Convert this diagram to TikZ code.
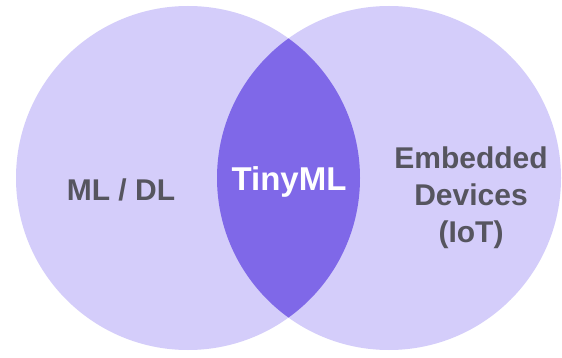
\documentclass[tikz,border=0pt]{standalone}
\usepackage{fontspec}
\setmainfont{Liberation Sans}
\definecolor{lav}{HTML}{D4CDFA}
\definecolor{lens}{HTML}{7F68E8}
\definecolor{txt}{HTML}{56555F}
\begin{document}
\begin{tikzpicture}[x=1pt,y=-1pt,
  lbl/.style={font=\bfseries\fontsize{30}{37}\selectfont, text=txt, align=center, inner sep=0pt}]
\useasboundingbox[fill=white] (0,0) rectangle (562,358);
\coordinate (cl) at (188,178);
\coordinate (cr) at (389,178);
\fill[lav] (cl) circle[radius=172];
\fill[lav] (cr) circle[radius=172];
\begin{scope}
  \clip (cl) circle[radius=172];
  \fill[lens] (cr) circle[radius=172];
\end{scope}
\node[lbl] (ml) at (121,190) {ML / DL};
\node[lbl, text=white, font=\bfseries\fontsize{33}{37}\selectfont] (tiny) at (289,182) {TinyML};
\node[lbl] (emb) at (471,198) {Embedded\\Devices\\(IoT)};
\end{tikzpicture}
\end{document}
